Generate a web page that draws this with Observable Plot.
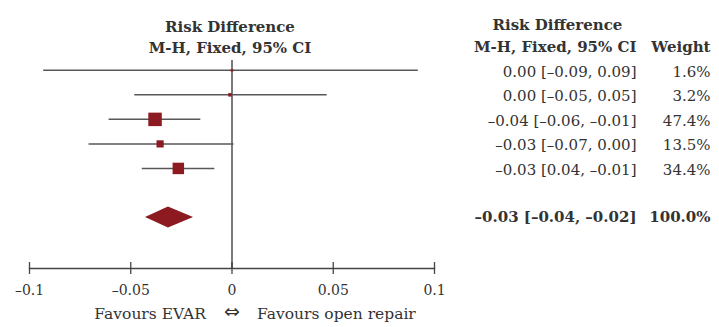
<!DOCTYPE html>
<html>
<head>
<meta charset="utf-8">
<script src="https://cdn.jsdelivr.net/npm/d3@7"></script>
<script src="https://cdn.jsdelivr.net/npm/@observablehq/plot@0.6"></script>
<style>
  html, body { margin: 0; padding: 0; background: #fff; }
  svg { display: block; }
</style>
</head>
<body>
<div id="chart"></div>
<script>
// Study rows (top to bottom)
const rowIndex = [0, 1, 2, 3, 4];
const estimate = [0.000, -0.001, -0.038, -0.0355, -0.0265];
const lower    = [-0.093, -0.048, -0.0607, -0.0706, -0.0443];
const upper    = [0.092, 0.047, -0.0154, 0.001, -0.0085];
const weight   = [1.6, 3.2, 47.4, 13.5, 34.4];
const ciLabels = ["0.00 [–0.09, 0.09]", "0.00 [–0.05, 0.05]", "–0.04 [–0.06, –0.01]", "–0.03 [–0.07, 0.00]", "–0.03 [0.04, –0.01]"];
const weightLabels = ["1.6%", "3.2%", "47.4%", "13.5%", "34.4%"];

// Pooled (total) estimate
const pooledRow = 6;
const pooledEstimate = -0.0314;
const pooledLower = -0.0427;
const pooledUpper = -0.0190;
const pooledCiLabel = "–0.03 [–0.04, –0.02]";
const pooledWeightLabel = "100.0%";

// Axis ticks
const xTicks = [-0.1, -0.05, 0, 0.05, 0.1];
const xTickLabels = ["–0.1", "–0.05", "0", "0.05", "0.1"];

const rows = rowIndex.map((i) => ({
  row: i, est: estimate[i], lo: lower[i], hi: upper[i], w: weight[i],
  ci: ciLabels[i], wl: weightLabels[i]
}));
const diamondHalf = 0.43;
const diamond = [
  {y: pooledRow - diamondHalf, x1: pooledEstimate, x2: pooledEstimate},
  {y: pooledRow, x1: pooledLower, x2: pooledUpper},
  {y: pooledRow + diamondHalf, x1: pooledEstimate, x2: pooledEstimate}
];
const pooled = [{row: pooledRow, ci: pooledCiLabel, wl: pooledWeightLabel}];

const red = "#8c1a20";
const font = "DejaVu Serif";
const ink = "#333";

const chart = Plot.plot({
  width: 719,
  height: 327,
  marginLeft: 29,
  marginRight: 285,
  marginTop: 60,
  marginBottom: 59,
  style: {fontFamily: font, fontSize: "15px", color: ink, background: "#fff", overflow: "visible"},
  x: {domain: [-0.1, 0.1], axis: null},
  y: {domain: [-0.4, 8.08], reverse: true, axis: null},
  r: {type: "sqrt", domain: [0, 47.4], range: [0, 7.6]},
  marks: [
    // axis line
    Plot.frame({anchor: "bottom", stroke: "#444", strokeWidth: 1.3}),
    Plot.axisX(xTicks, {
      tickSize: 12, dy: -6, tickPadding: 11, stroke: "#444", strokeWidth: 1.3,
      tickFormat: (d, i) => xTickLabels[i], fontSize: 14, fill: ink
    }),
    // line of no effect
    Plot.ruleX([0], {stroke: "#333", strokeWidth: 1.3}),
    // confidence intervals
    Plot.ruleY(rows, {y: "row", x1: "lo", x2: "hi", stroke: "#585858", strokeWidth: 1.5}),
    // point estimates
    Plot.dot(rows, {x: "est", y: "row", r: "w", symbol: "square", fill: red, stroke: "none"}),
    // pooled diamond
    Plot.areaX(diamond, {y: "y", x1: "x1", x2: "x2", fill: red, curve: "linear"}),
    // left headers
    Plot.text(["Risk Difference"], {x: () => 0, frameAnchor: "top", dx: -2, dy: -39, fontWeight: "bold", fontSize: 15, fill: ink}),
    Plot.text(["M-H, Fixed, 95% CI"], {x: () => 0, frameAnchor: "top", dx: -2, dy: -18, fontWeight: "bold", fontSize: 15, fill: ink}),
    // right headers
    Plot.text(["Risk Difference"], {frameAnchor: "top-right", textAnchor: "start", dx: 58, dy: -41, fontWeight: "bold", fontSize: 15, fill: ink}),
    Plot.text(["M-H, Fixed, 95% CI"], {frameAnchor: "top-right", textAnchor: "end", dx: 202, dy: -19, fontWeight: "bold", fontSize: 15, fill: ink}),
    Plot.text(["Weight"], {frameAnchor: "top-right", textAnchor: "end", dx: 276, dy: -19, fontWeight: "bold", fontSize: 15, fill: ink}),
    // right columns
    Plot.text(rows, {y: "row", text: "ci", frameAnchor: "right", textAnchor: "end", dx: 202, dy: 1.5, fontSize: 15, fill: ink}),
    Plot.text(rows, {y: "row", text: "wl", frameAnchor: "right", textAnchor: "end", dx: 276, dy: 1.5, fontSize: 15, fill: ink}),
    Plot.text(pooled, {y: "row", text: "ci", frameAnchor: "right", textAnchor: "end", dx: 202, fontWeight: "bold", fontSize: 15, fill: ink}),
    Plot.text(pooled, {y: "row", text: "wl", frameAnchor: "right", textAnchor: "end", dx: 276, fontWeight: "bold", fontSize: 15, fill: ink}),
    // favours caption
    Plot.text(["Favours EVAR"], {x: () => 0, frameAnchor: "bottom", textAnchor: "end", dx: -26, dy: 50, fontSize: 15.5, fill: ink}),
    Plot.text(["⇔"], {x: () => 0, frameAnchor: "bottom", dy: 49, fontSize: 19, fontFamily: "DejaVu Sans", fill: ink}),
    Plot.text(["Favours open repair"], {x: () => 0, frameAnchor: "bottom", textAnchor: "start", dx: 25, dy: 50, fontSize: 15.5, fill: ink})
  ]
});
document.getElementById("chart").appendChild(chart);
</script>
</body>
</html>
